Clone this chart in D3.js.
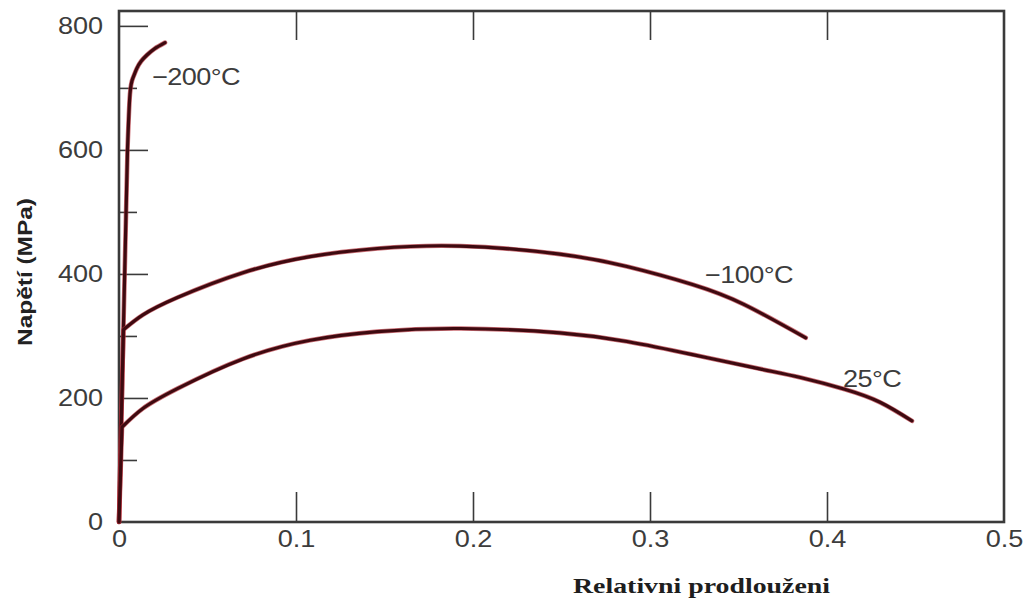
<!DOCTYPE html>
<html>
<head>
<meta charset="utf-8">
<script src="https://cdn.jsdelivr.net/npm/d3@7"></script>
<style>
  html, body { margin: 0; padding: 0; background: #fff; }
  svg { display: block; }
</style>
</head>
<body>
<svg id="chart" width="1027" height="600"></svg>
<script>
// ---- data ----
const seriesNames = ["−200°C", "−100°C", "25°C"];
const strainM200 = [0, 0.0048, 0.0062, 0.008, 0.010, 0.0125, 0.0158, 0.020, 0.026];
const stressM200 = [0, 600, 690, 717, 731, 743, 753, 763, 773];
const strainM100 = [0, 0.0025, 0.0135, 0.033, 0.070, 0.108, 0.146, 0.193, 0.249, 0.287, 0.324, 0.353, 0.388];
const stressM100 = [0, 310, 334, 362, 402, 428, 441, 445, 432, 412, 383, 351, 297];
const strain25 = [0, 0.0017, 0.0135, 0.033, 0.070, 0.108, 0.146, 0.193, 0.249, 0.287, 0.324, 0.362, 0.385, 0.410, 0.430, 0.448];
const stress25 = [0, 153, 183, 215, 263, 293, 307, 312, 305, 291, 270, 247, 233, 214, 193, 163];
const yTickValues = [0, 200, 400, 600, 800];
const yMinorValues = [100, 300, 500, 700];
const xTickValues = [0, 0.1, 0.2, 0.3, 0.4, 0.5];
const xTickLabels = ["0", "0.1", "0.2", "0.3", "0.4", "0.5"];
const yLabel = "Napětí (MPa)";
const xLabel = "Relativni prodlouženi";

// ---- layout ----
const L = 119, R = 1004, T = 11, B = 522;
const x = d3.scaleLinear().domain([0, 0.5]).range([L, R]);
const y = d3.scaleLinear().domain([0, 824]).range([B, T]);
const svg = d3.select("#chart");
const SX = 1.13; // horizontal stretch of the source lettering
const tickFont = "'Liberation Sans', Arial, sans-serif";
const textCol = "#3c3c3c";
const axisCol = "#3a3a3a";

// left axis (major ticks inward, labels outside)
const gL = svg.append("g").attr("transform", `translate(${L},0)`)
  .call(d3.axisLeft(y).tickValues(yTickValues).tickSizeInner(-29).tickSizeOuter(0).tickPadding(14).tickFormat(d3.format("d")));
gL.select(".domain").remove();
gL.selectAll(".tick line").attr("stroke", axisCol).attr("stroke-width", 1.6);
gL.selectAll(".tick text").attr("font-family", tickFont).attr("font-size", 24).attr("fill", textCol)
  .attr("transform", `scale(${SX},1)`);
gL.selectAll(".tick").filter(d => d === 0).select("line").remove();

// left minor ticks
const gLm = svg.append("g").attr("transform", `translate(${L},0)`)
  .call(d3.axisLeft(y).tickValues(yMinorValues).tickSizeInner(-18).tickSizeOuter(0).tickFormat(""));
gLm.select(".domain").remove();
gLm.selectAll(".tick line").attr("stroke", axisCol).attr("stroke-width", 1.6);

// bottom axis
const gB = svg.append("g").attr("transform", `translate(0,${B})`)
  .call(d3.axisBottom(x).tickValues(xTickValues).tickSizeInner(-30).tickSizeOuter(0).tickPadding(8)
    .tickFormat((d, i) => xTickLabels[i]));
gB.select(".domain").remove();
gB.selectAll(".tick line").attr("stroke", axisCol).attr("stroke-width", 1.6);
gB.selectAll(".tick").filter(d => d === 0 || d === 0.5).select("line").remove();
gB.selectAll(".tick text").attr("font-family", tickFont).attr("font-size", 24).attr("fill", textCol)
  .attr("transform", `scale(${SX},1)`).attr("x", 0);

// top ticks (inward)
const gT = svg.append("g").attr("transform", `translate(0,${T})`)
  .call(d3.axisTop(x).tickValues([0.1, 0.2, 0.3, 0.4]).tickSizeInner(-29).tickSizeOuter(0).tickFormat(""));
gT.select(".domain").remove();
gT.selectAll(".tick line").attr("stroke", axisCol).attr("stroke-width", 1.6);

// frame
svg.append("rect").attr("x", L).attr("y", T).attr("width", R - L).attr("height", B - T)
  .attr("fill", "none").attr("stroke", axisCol).attr("stroke-width", 2.6);

// curves: straight elastic part up to the knee, smooth plastic part after it
const series = [
  {name: seriesNames[0], xs: strainM200, ys: stressM200, knee: 1},
  {name: seriesNames[1], xs: strainM100, ys: stressM100, knee: 1},
  {name: seriesNames[2], xs: strain25, ys: stress25, knee: 1}
];
const elastic = d3.line().x(d => x(d[0])).y(d => y(d[1]));
const plastic = d3.line().x(d => x(d[0])).y(d => y(d[1])).curve(d3.curveNatural);
const gC = svg.append("g");
series.forEach(s => {
  const pts = s.xs.map((v, i) => [v, s.ys[i]]);
  const dFull = elastic(pts.slice(0, s.knee + 1)) + "L" + plastic(pts.slice(s.knee)).slice(1);
  [["#b3303a", 4.6, 0.7], ["#3e0a10", 3.2, 1]].forEach(([c, w, o]) => {
    gC.append("path").attr("d", dFull).attr("fill", "none")
      .attr("stroke", c).attr("stroke-width", w).attr("opacity", o)
      .attr("stroke-linecap", "round").attr("stroke-linejoin", "round");
  });
});

// curve labels (anchored in data units)
const labelAnchors = [[0.0186, 705], [0.331, 385], [0.409, 218]];
series.forEach((s, i) => {
  svg.append("text")
    .attr("transform", `translate(${x(labelAnchors[i][0])},${y(labelAnchors[i][1])}) scale(${SX},1)`)
    .attr("font-family", tickFont).attr("font-size", 24).attr("fill", textCol)
    .attr("letter-spacing", -0.5)
    .text(s.name);
});

// axis titles
svg.append("text")
  .attr("transform", `translate(32,272) rotate(-90)`)
  .attr("text-anchor", "middle")
  .attr("font-family", "'Liberation Sans', Arial, sans-serif").attr("font-weight", "bold")
  .attr("font-size", 20).attr("fill", "#222")
  .attr("textLength", 148).attr("lengthAdjust", "spacingAndGlyphs")
  .text(yLabel);

svg.append("text")
  .attr("x", 573).attr("y", 593)
  .attr("font-family", "'Liberation Serif', 'Times New Roman', serif").attr("font-weight", "bold")
  .attr("font-size", 22).attr("fill", "#1e1e1e")
  .attr("textLength", 257).attr("lengthAdjust", "spacingAndGlyphs")
  .text(xLabel);
</script>
</body>
</html>
